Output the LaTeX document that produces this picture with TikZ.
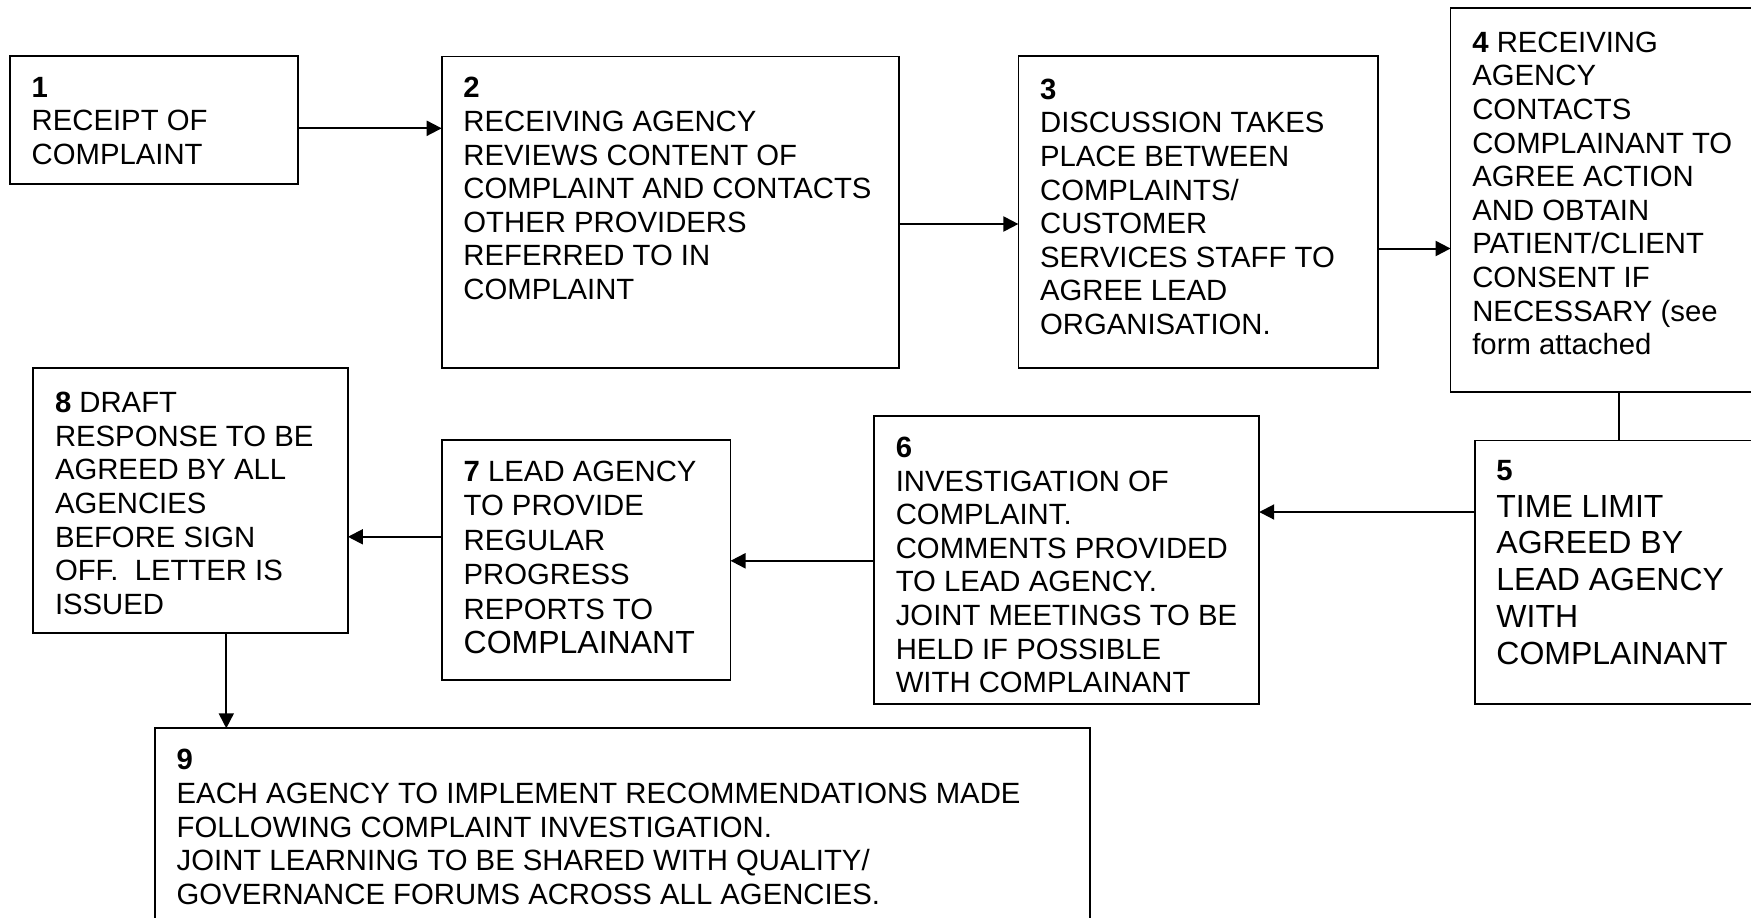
\documentclass[tikz,border=0pt]{standalone}
\usepackage{fontspec}
\setmainfont{Liberation Sans}
\usetikzlibrary{arrows.meta}
% #1 width, #2 height, #3 top gap, #4 text
\newcommand{\boxbody}[4]{%
  \parbox[t][#2][t]{#1}{\fontsize{29.3pt}{33.6pt}\selectfont\raggedright\leftskip=21.7pt\relax
  \vspace*{#3}\rule{0pt}{23.5pt}#4}}
\newcommand{\bigf}{\fontsize{32pt}{36.7pt}\selectfont}
\tikzset{
  fbox/.style={draw=black, line width=1.7pt, inner sep=0pt, outer sep=0pt, anchor=north west, fill=white},
  arr/.style={draw=black, line width=2pt, -{Triangle[length=15pt,width=15pt]}},
  arrv/.style={draw=black, line width=1.8pt, -{Triangle[length=15pt,width=15pt]}},
  plain/.style={draw=black, line width=1.7pt}
}
\begin{document}
\begin{tikzpicture}[x=1pt,y=-1pt]
\useasboundingbox (0,0) rectangle (1751,918);
\fill[white] (0,0) rectangle (1751,918);
\clip (0,0) rectangle (1751,918);

\node[fbox] (b1) at (10,56) {\boxbody{287.7pt}{128pt}{17.8pt}{\textbf{1}\\RECEIPT OF\\COMPLAINT}};
\node[fbox] (b2) at (441.7,56.5) {\boxbody{457.1pt}{311.8pt}{17.8pt}{\textbf{2}\\RECEIVING AGENCY\\REVIEWS CONTENT OF\\COMPLAINT AND CONTACTS\\OTHER PROVIDERS\\REFERRED TO IN\\COMPLAINT}};
\node[fbox] (b3) at (1018.4,56.3) {\boxbody{359.3pt}{312pt}{19.5pt}{\textbf{3}\\DISCUSSION TAKES\\PLACE BETWEEN\\COMPLAINTS/\\CUSTOMER\\SERVICES STAFF TO\\AGREE LEAD\\ORGANISATION.}};
\node[fbox] (b4) at (1450.6,8.3) {\boxbody{310pt}{383.7pt}{20.5pt}{\textbf{4} RECEIVING\\AGENCY\\CONTACTS\\COMPLAINANT TO\\AGREE ACTION\\AND OBTAIN\\PATIENT/CLIENT\\CONSENT IF\\NECESSARY (see\\form attached}};
\node[fbox] (b5) at (1474.7,440.5) {\boxbody{290pt}{263.8pt}{16.5pt}{\textbf{5}\\\bigf TIME LIMIT\\AGREED BY\\LEAD AGENCY\\WITH\\COMPLAINANT}};
\node[fbox] (b6) at (874.1,416) {\boxbody{385.1pt}{288.3pt}{18pt}{\textbf{6}\\INVESTIGATION OF\\COMPLAINT.\\COMMENTS PROVIDED\\TO LEAD AGENCY.\\JOINT MEETINGS TO BE\\HELD IF POSSIBLE\\WITH COMPLAINANT}};
\node[fbox] (b7) at (442,440.3) {\boxbody{288.5pt}{239.7pt}{17.2pt}{\fontsize{29.3pt}{34.5pt}\selectfont\textbf{7} LEAD AGENCY\\TO PROVIDE\\REGULAR\\PROGRESS\\REPORTS TO\\{\fontsize{32pt}{34.5pt}\selectfont COMPLAINANT}}};
\node[fbox] (b8) at (33.3,368.3) {\boxbody{314.6pt}{264.7pt}{20.8pt}{\textbf{8} DRAFT\\RESPONSE TO BE\\AGREED BY ALL\\AGENCIES\\BEFORE SIGN\\OFF.~ LETTER IS\\ISSUED}};
\node[fbox] (b9) at (155,728.3) {\boxbody{935pt}{220pt}{18pt}{\textbf{9}\\EACH AGENCY TO IMPLEMENT RECOMMENDATIONS MADE\\FOLLOWING COMPLAINT INVESTIGATION.\\JOINT LEARNING TO BE SHARED WITH QUALITY/\\GOVERNANCE FORUMS ACROSS ALL AGENCIES.}};

\draw[arr] (b1.east |- 0,128.3) -- (b2.west |- 0,128.3);
\draw[arr] (b2.east |- 0,224) -- (b3.west |- 0,224);
\draw[arr] (b3.east |- 0,248.5) -- (b4.west |- 0,248.5);
\draw[plain] (b4.south -| 1619,0) -- (b5.north -| 1619,0);
\draw[arr] (b5.west |- 0,512) -- (b6.east |- 0,512);
\draw[arr] (b6.west |- 0,560.8) -- (b7.east |- 0,560.8);
\draw[arr] (b7.west |- 0,536.8) -- (b8.east |- 0,536.8);
\draw[arrv] (b8.south -| 226.3,0) -- (b9.north -| 226.3,0);
\end{tikzpicture}
\end{document}
